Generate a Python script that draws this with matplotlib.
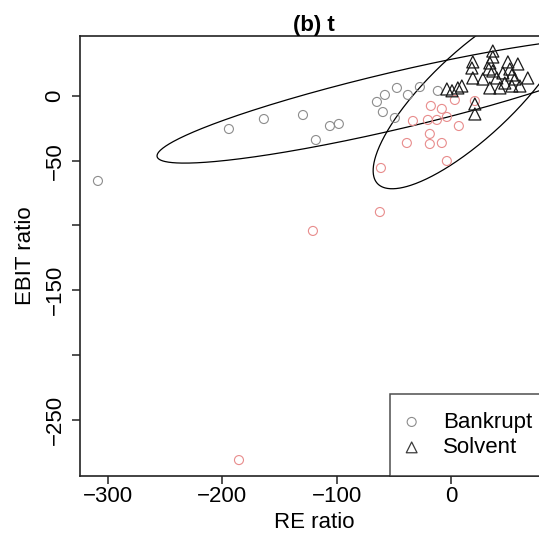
import numpy as np
import matplotlib.pyplot as plt

plt.rcParams['font.family'] = ['Liberation Sans', 'DejaVu Sans']

# bankrupt firms (grey = plain, pink = highlighted)
grey_x = [-308.8, -194.2, -163.6, -129.4, -118.1, -105.8, -98.0, -64.7, -57.7,
          -47.2, -59.5, -37.6, -27.1, -49.0, -11.4]
grey_y = [-65.6, -25.5, -17.8, -14.7, -34.0, -23.2, -21.6, -4.6, 0.8,
          6.2, -12.4, 0.8, 6.9, -17.0, 3.9]
pink_x = [-185.4, -120.7, -62.1, -61.2, -3.5, -38.5, -18.4, -7.9, -18.4, -33.2,
          -20.1, -12.2, -3.5, 7.0, -17.5, -7.9, 3.5, 21.0]
pink_y = [-281.1, -104.2, -89.6, -55.6, -50.2, -36.3, -37.1, -36.3, -29.3, -19.3,
          -18.5, -18.5, -16.2, -23.2, -7.7, -10.0, -3.1, -3.9]

# solvent firms
solv_x = [36.7, 36.7, 19.2, 34.1, 49.9, 58.6, 18.4, 33.2, 36.7, 51.6, 45.5, 53.4,
          19.2, 28.0, 40.2, 67.3, 56.0, 47.2, 9.6, -3.5, 6.1, 34.1, 42.9, 53.4,
          60.4, 21.0, 21.0, 1.0]
solv_y = [34.7, 30.1, 26.3, 25.5, 26.3, 24.7, 21.6, 20.8, 19.3, 20.8, 17.8, 16.2,
          13.9, 13.1, 13.9, 13.9, 13.1, 10.0, 7.7, 5.4, 6.2, 6.2, 6.2, 7.7,
          7.7, -6.2, -13.9, 4.0]

# ellipses: centre x, centre y, half x-extent, slope of chord midline, half chord height
ell_bankrupt = (-47.5, -3.4, 209.6, 0.2045, 22.55)
ell_solvent = (19.0, 1.5, 87.0, 0.68, 43.0)

fs = 16

fig = plt.figure(figsize=(5.39, 5.42), dpi=100)
ax = fig.add_axes([80/539, 1-476/542, 468/539, 440/542])

ax.scatter(grey_x, grey_y, s=42, facecolors='none', edgecolors='#8c8c8c', linewidths=0.8, zorder=3)
ax.scatter(pink_x, pink_y, s=42, facecolors='none', edgecolors='#e88c8c', linewidths=0.8, zorder=3)
ax.scatter(solv_x, solv_y, s=75, marker='^', facecolors='none', edgecolors='#1a1a1a', linewidths=0.9, zorder=3)

t = np.linspace(0, 2*np.pi, 500)
for cx, cy, a, s, h in (ell_bankrupt, ell_solvent):
    ax.plot(cx + a*np.cos(t), cy + s*a*np.cos(t) + h*np.sin(t), color='black', lw=0.9)

ax.set_xlim(-324.5, 85)
ax.set_ylim(-293.4, 46.3)
ax.set_xticks([-300, -200, -100, 0])
ax.set_xticklabels(['\u2212300', '\u2212200', '\u2212100', '0'])
ax.set_yticks([0, -50, -100, -150, -200, -250])
ax.set_yticklabels(['0', '\u221250', '', '\u2212150', '', '\u2212250'], rotation=90, va='center')
ax.tick_params(labelsize=fs, length=5.5, width=1.1, pad=1.5, color='#222222')
ax.tick_params(axis='y', pad=5)
for sp in ax.spines.values():
    sp.set_linewidth(1.2)
    sp.set_color('#222222')

ax.set_xlabel('RE ratio', fontsize=fs, labelpad=4)
ax.set_ylabel('EBIT ratio', fontsize=fs, labelpad=6)
ax.set_title('(b) t', fontsize=fs, fontweight='bold', pad=3)

h1 = ax.scatter([], [], s=42, facecolors='none', edgecolors='#8c8c8c', linewidths=0.8)
h2 = ax.scatter([], [], s=60, marker='^', facecolors='none', edgecolors='#3a3a3a', linewidths=0.9)
leg = ax.legend([h1, h2], ['Bankrupt', 'Solvent'], loc='lower left',
                bbox_to_anchor=(310/468, 0), fontsize=fs, frameon=True, fancybox=False,
                borderpad=0.8, handlelength=0.35, handletextpad=1.25, labelspacing=0.2,
                borderaxespad=0)
leg.get_frame().set_edgecolor('#222222')
leg.get_frame().set_linewidth(1.1)

fig.savefig('out.png', dpi=100)
